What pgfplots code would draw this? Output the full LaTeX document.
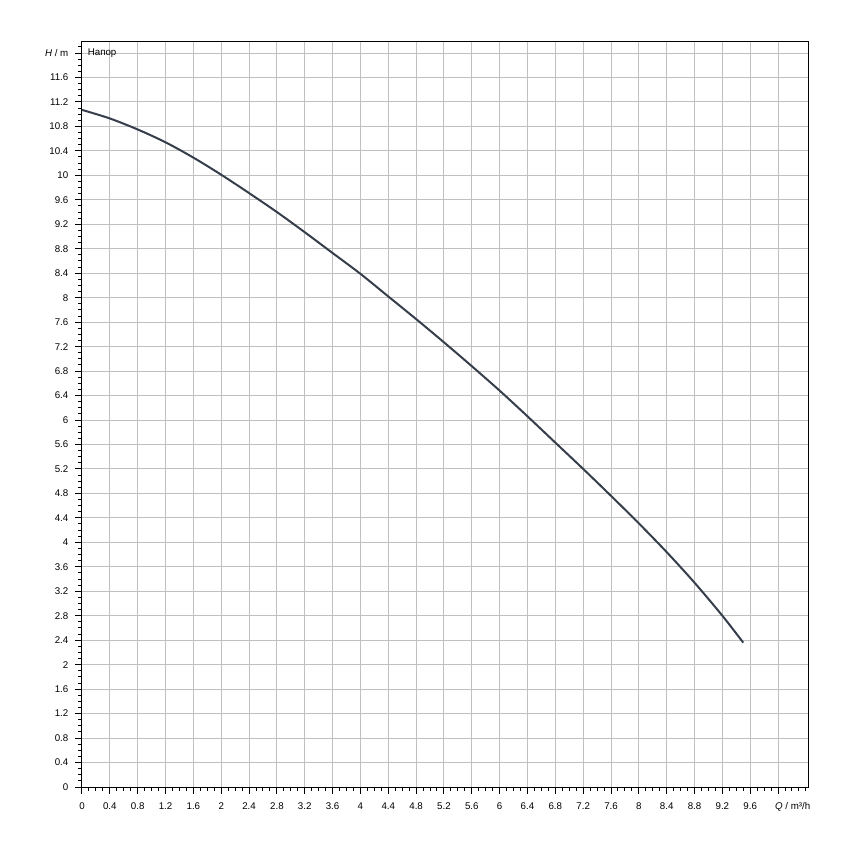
\documentclass[border=0pt]{standalone}
\usepackage{pgfplots}
\pgfplotsset{compat=1.18}
\usepackage{fontspec}
\setmainfont{Liberation Sans}
\definecolor{gridc}{RGB}{192,192,192}
\definecolor{curvec}{RGB}{55,62,75}
\begin{document}
\begin{tikzpicture}
\begin{axis}[
  scale only axis,
  width=544.5pt, height=558.75pt,
  xmin=0, xmax=10.43, ymin=0, ymax=12.18,
  axis line style={black, line width=0.75pt},
  xtick={0,0.4,0.8,1.2,1.6,2,2.4,2.8,3.2,3.6,4,4.4,4.8,5.2,5.6,6,6.4,6.8,7.2,7.6,8,8.4,8.8,9.2,9.6,10},
  xticklabels={0,0.4,0.8,1.2,1.6,2,2.4,2.8,3.2,3.6,4,4.4,4.8,5.2,5.6,6,6.4,6.8,7.2,7.6,8,8.4,8.8,9.2,9.6,{\makebox[0pt][l]{\hspace*{-2.25pt}\textit{Q} / m³/h}}},
  ytick={0,0.4,0.8,1.2,1.6,2,2.4,2.8,3.2,3.6,4,4.4,4.8,5.2,5.6,6,6.4,6.8,7.2,7.6,8,8.4,8.8,9.2,9.6,10,10.4,10.8,11.2,11.6,12},
  yticklabels={0,0.4,0.8,1.2,1.6,2,2.4,2.8,3.2,3.6,4,4.4,4.8,5.2,5.6,6,6.4,6.8,7.2,7.6,8,8.4,8.8,9.2,9.6,10,10.4,10.8,11.2,11.6,{\textit{H} / m}},
  minor xtick={0.1,0.2,...,10.45},
  minor ytick={0.1,0.2,...,12.15},
  tick align=outside,
  tick pos=left,
  major tick length=5.25pt,
  minor tick length=3pt,
  tick style={black, line width=0.75pt},
  major grid style={gridc, line width=0.75pt},
  xmajorgrids, ymajorgrids,
  ticklabel style={font=\fontsize{7.3}{8}\selectfont, text=black},
  xticklabel style={yshift=-3pt},
  yticklabel style={xshift=-1.5pt},
  clip=false,
]
\addplot[curvec, line width=1.5pt, smooth, tension=0.5] coordinates {
(0,11.07) (0.4,10.93) (0.8,10.75) (1.2,10.54) (1.6,10.29) (2.0,10.01)
(2.4,9.71) (2.8,9.40) (3.2,9.07) (3.6,8.73) (4.0,8.39) (4.4,8.02)
(4.8,7.65) (5.2,7.27) (5.6,6.88) (6.0,6.48) (6.4,6.06) (6.8,5.63)
(7.2,5.20) (7.6,4.76) (8.0,4.31) (8.4,3.84) (8.8,3.34) (9.2,2.80) (9.5,2.36)
};
\node[anchor=west, inner sep=0pt, font=\fontsize{7.3}{8}\selectfont] at (axis cs:0.08,12) {Напор};
\end{axis}
\useasboundingbox ([xshift=-61.5pt, yshift=-47.25pt]current axis.south west) rectangle ([xshift=31.5pt, yshift=31.5pt]current axis.north east);
\end{tikzpicture}
\end{document}
